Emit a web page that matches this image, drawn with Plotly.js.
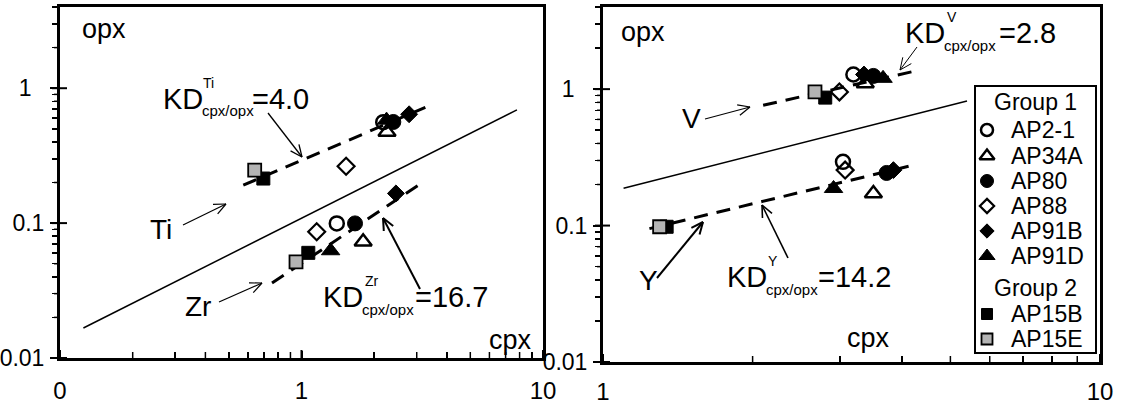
<!DOCTYPE html>
<html>
<head>
<meta charset="utf-8">
<script src="https://cdn.plot.ly/plotly-3.0.1.min.js"></script>
<style>html,body{margin:0;padding:0;background:#fff}#chart{width:1122px;height:409px}</style>
</head>
<body>
<div id="chart"></div>
<script>
// Sample names, in legend order
const samples = ['AP2-1', 'AP34A', 'AP80', 'AP88', 'AP91B', 'AP91D', 'AP15B', 'AP15E'];
const groups  = ['Group 1', 'Group 1', 'Group 1', 'Group 1', 'Group 1', 'Group 1', 'Group 2', 'Group 2'];

// Ti and Zr: concentration in cpx (x) and opx (y)
const tiCpx = [2.18, 2.26, 2.40, 1.53, 2.79, 2.25, 0.695, 0.64];
const tiOpx = [0.56, 0.474, 0.562, 0.264, 0.641, 0.58, 0.214, 0.247];
const zrCpx = [1.40, 1.80, 1.666, 1.156, 2.46, 1.32, 1.067, 0.949];
const zrOpx = [0.0995, 0.0728, 0.0995, 0.0863, 0.166, 0.0624, 0.0602, 0.0516];

// V and Y: concentration in cpx (x) and opx (y)
const vCpx = [3.19, 3.37, 3.50, 2.99, 3.35, 3.66, 2.80, 2.67];
const vOpx = [1.28, 1.10, 1.25, 0.954, 1.28, 1.20, 0.867, 0.954];
const yCpx = [3.04, 3.50, 3.72, 3.07, 3.84, 2.91, 1.343, 1.30];
const yOpx = [0.293, 0.172, 0.243, 0.255, 0.255, 0.187, 0.098, 0.098];

// Regression lines (end points, cpx / opx)
const tiFitCpx = [0.574, 3.30];
const tiFitOpx = [0.191, 0.728];
const zrFitCpx = [0.755, 3.05];
const zrFitOpx = [0.036, 0.191];
const vFitCpx = [2.10, 4.18];
const vFitOpx = [0.762, 1.34];
const yFitCpx = [1.24, 4.12];
const yFitOpx = [0.095, 0.272];

// Reference lines
const refLeftCpx = [0.125, 7.8];
const refLeftOpx = [0.0167, 0.69];
const refRightCpx = [1.10, 5.40];
const refRightOpx = [0.188, 0.82];

// Axis tick labels (decades)
const leftXTicks = [0.1, 1, 10];
const leftXText = ['0', '1', '10'];
const rightXTicks = [1, 10];
const rightXText = ['1', '10'];
const yTicks = [0.01, 0.1, 1];
const yText = ['0.01', '0.1', '1\u2008\u2008'];

// Partition coefficient labels
const kdLabels = [
  {el: 'Ti', value: '=4.0'},
  {el: 'Zr', value: '=16.7'},
  {el: 'V',  value: '=2.8'},
  {el: 'Y',  value: '=14.2'}
];

// ---- geometry & styles ----
const FONT = 'Arial, "Liberation Sans", sans-serif';
const W = 1122, H = 409;
const PX = x => x / W;
const PY = y => 1 - y / H;
const Y_RANGE = [-2, Math.log10(4)];
const LEFT = {x0: 60, x1: 543, y0: 7, y1: 358, xr: [-1, 1]};
const RIGHT = {x0: 603, x1: 1100, y0: 7, y1: 362, xr: [0, 1]};

const markerStyle = {
  'AP2-1': {symbol: 'circle-open', color: '#000', line: {color: '#000', width: 2.5}},
  'AP34A': {symbol: 'triangle-up-open', color: '#000', line: {color: '#000', width: 2.5}},
  'AP80':  {symbol: 'circle', color: '#000', line: {color: '#000', width: 1}},
  'AP88':  {symbol: 'diamond-open', color: '#000', line: {color: '#000', width: 2.2}},
  'AP91B': {symbol: 'diamond', color: '#000', line: {color: '#000', width: 1}},
  'AP91D': {symbol: 'triangle-up', color: '#000', line: {color: '#000', width: 1}},
  'AP15B': {symbol: 'square', color: '#000', line: {color: '#000', width: 1}},
  'AP15E': {symbol: 'square', color: '#b4b4b4', line: {color: '#000', width: 1.8}}
};
const markerSize = {
  'circle-open': 14, 'circle': 15, 'triangle-up-open': 15, 'triangle-up': 16,
  'diamond-open': 13, 'diamond': 13, 'square': 13
};
const keySize = {
  'circle-open': 12, 'circle': 13, 'triangle-up-open': 13, 'triangle-up': 14,
  'diamond-open': 11, 'diamond': 11, 'square': 11
};

const traces = [];

function lineTrace(xs, ys, xa, ya, dash, width) {
  return {
    x: xs, y: ys, xaxis: xa, yaxis: ya, type: 'scatter', mode: 'lines',
    line: {color: '#000', width: width, dash: dash},
    showlegend: false, hoverinfo: 'skip'
  };
}

traces.push(lineTrace(refLeftCpx, refLeftOpx, 'x', 'y', 'solid', 1.5));
traces.push(lineTrace(tiFitCpx, tiFitOpx, 'x', 'y', '14px,9px', 3));
traces.push(lineTrace(zrFitCpx, zrFitOpx, 'x', 'y', '14px,9px', 3));
traces.push(lineTrace(refRightCpx, refRightOpx, 'x2', 'y2', 'solid', 1.5));
traces.push(lineTrace(vFitCpx, vFitOpx, 'x2', 'y2', '14px,9px', 3));
traces.push(lineTrace(yFitCpx, yFitOpx, 'x2', 'y2', '14px,9px', 3));

samples.forEach((name, i) => {
  const st = markerStyle[name];
  const marker = {symbol: st.symbol, color: st.color, size: markerSize[st.symbol], line: st.line};
  traces.push({
    x: [tiCpx[i], zrCpx[i]], y: [tiOpx[i], zrOpx[i]],
    xaxis: 'x', yaxis: 'y', type: 'scatter', mode: 'markers',
    name: name, marker: marker, legendgroup: groups[i], showlegend: false
  });
  traces.push({
    x: [vCpx[i], yCpx[i]], y: [vOpx[i], yOpx[i]],
    xaxis: 'x2', yaxis: 'y2', type: 'scatter', mode: 'markers',
    name: name, marker: marker, legendgroup: groups[i], showlegend: false
  });
});

// ---- text labels ----
const annotations = [];
function note(text, x, y, size, xanchor) {
  annotations.push({
    text: text, x: PX(x), y: PY(y), xref: 'paper', yref: 'paper',
    xanchor: xanchor || 'left', yanchor: 'middle', showarrow: false,
    font: {family: FONT, size: size, color: '#000'}, borderpad: 0
  });
}
// KD label: element as superscript stacked over the cpx/opx subscript
function kd(lbl, x, y, supDx, valueDx) {
  note('KD', x, y, 29);
  note(lbl.el, x + supDx, y - 16, 14);
  note('cpx/opx', x + 39, y + 12, 15);
  note(lbl.value, x + valueDx, y, 29);
}

note('opx', 81, 29, 27);
note('cpx', 533, 340, 27, 'right');
note('Ti', 161, 229, 28, 'center');
note('Zr', 198, 306, 28, 'center');
kd(kdLabels[0], 162, 99, 40, 89);
kd(kdLabels[1], 322, 297, 42, 92);

note('opx', 620, 32, 27);
note('cpx', 891, 338, 27, 'right');
note('V', 691, 119, 28, 'center');
note('Y', 648, 280, 28, 'center');
kd(kdLabels[2], 904, 33, 42, 94);
kd(kdLabels[3], 726, 277, 41, 91);

// ---- arrows ----
const shapes = [];
function seg(a, b, c, d, w) {
  shapes.push({
    type: 'line', xref: 'paper', yref: 'paper',
    x0: PX(a), y0: PY(b), x1: PX(c), y1: PY(d),
    line: {color: '#000', width: w}
  });
}
function arrow(x0, y0, x1, y1, w) {
  seg(x0, y0, x1, y1, w);
  const ang = Math.atan2(y1 - y0, x1 - x0);
  const len = 13, spread = 0.42;
  seg(x1, y1, x1 - len * Math.cos(ang - spread), y1 - len * Math.sin(ang - spread), w);
  seg(x1, y1, x1 - len * Math.cos(ang + spread), y1 - len * Math.sin(ang + spread), w);
}
arrow(268, 113, 302, 157, 1.3);
arrow(183, 225, 226, 204, 1.2);
arrow(219, 302, 262, 283, 1.2);
arrow(420, 289, 383, 218, 2);
arrow(705, 119, 750, 107, 1.2);
arrow(657, 278, 703, 222, 2);
arrow(917, 47, 900, 70, 1);
arrow(788, 258, 762, 205, 1.6);

// ---- log tick marks (decades and 2..9 subdivisions) along each panel's axes ----
function logTickList(lo, hi) {
  const list = [];
  for (let d = Math.floor(lo); d <= Math.ceil(hi); d++) {
    for (let k = 1; k <= 9; k++) {
      const e = d + Math.log10(k);
      if (e >= lo - 1e-9 && e <= hi + 1e-9) list.push({f: (e - lo) / (hi - lo), major: k === 1});
    }
  }
  return list;
}
function panelTicks(box) {
  // bottom axis: ticks pointing into the plot
  logTickList(box.xr[0], box.xr[1]).forEach(t => {
    const x = box.x0 + t.f * (box.x1 - box.x0);
    seg(x, box.y1, x, box.y1 - (t.major ? 8 : 6), t.major ? 2 : 1.5);
  });
  // left axis: subdivisions outside, decades crossing the line
  logTickList(Y_RANGE[0], Y_RANGE[1]).forEach(t => {
    const y = box.y1 - t.f * (box.y1 - box.y0);
    seg(box.x0 - (t.major ? 8 : 6), y, box.x0 + (t.major ? 7 : 0), y, t.major ? 2 : 1.5);
  });
}
panelTicks(LEFT);
panelTicks(RIGHT);

// ---- key box inside the right panel ----
const keyBox = {x0: 975, x1: 1096, y0: 86, y1: 353};
const keyMarkX = 987, keyTextX = 1010;
const keyRows = [
  {title: 'Group 1', y: 102},
  {sample: 'AP2-1', y: 130}, {sample: 'AP34A', y: 156}, {sample: 'AP80', y: 181},
  {sample: 'AP88', y: 206}, {sample: 'AP91B', y: 231}, {sample: 'AP91D', y: 256},
  {title: 'Group 2', y: 288},
  {sample: 'AP15B', y: 314}, {sample: 'AP15E', y: 339}
];
// pixel position -> right-panel axis value (log axes)
const keyX = px => Math.pow(10, RIGHT.xr[0] + (px - RIGHT.x0) / (RIGHT.x1 - RIGHT.x0) * (RIGHT.xr[1] - RIGHT.xr[0]));
const keyY = py => Math.pow(10, Y_RANGE[1] - (py - RIGHT.y0) / (RIGHT.y1 - RIGHT.y0) * (Y_RANGE[1] - Y_RANGE[0]));

shapes.push({
  type: 'rect', xref: 'paper', yref: 'paper', layer: 'below',
  x0: PX(keyBox.x0), x1: PX(keyBox.x1), y0: PY(keyBox.y1), y1: PY(keyBox.y0),
  line: {color: '#000', width: 2}, fillcolor: '#fff'
});
keyRows.forEach(r => {
  if (r.title) {
    note(r.title, (keyBox.x0 + keyBox.x1) / 2, r.y, 23, 'center');
  } else {
    const st = markerStyle[r.sample];
    traces.push({
      x: [keyX(keyMarkX)], y: [keyY(r.y)], xaxis: 'x2', yaxis: 'y2', type: 'scatter', mode: 'markers',
      marker: {symbol: st.symbol, color: st.color, size: keySize[st.symbol], line: st.line},
      showlegend: false, hoverinfo: 'skip'
    });
    note(r.sample, keyTextX, r.y, 23);
  }
});

// ---- axes ----
const baseAxis = {
  type: 'log', tickmode: 'array', tickcolor: '#000', tickwidth: 2,
  showline: true, linewidth: 3, linecolor: '#000', mirror: true,
  showgrid: false, zeroline: false, fixedrange: true
};
function xAxis(domain, range, vals, text, standoff) {
  return Object.assign({}, baseAxis, {
    domain: domain, range: range, tickvals: vals, ticktext: text,
    ticks: 'inside', ticklen: 7,
    minor: {ticks: 'inside', ticklen: 6, tickwidth: 1.5, tickcolor: '#000', dtick: 'D1'},
    tickfont: {family: FONT, size: 24, color: '#000'}, ticklabelstandoff: standoff
  });
}
function yAxis(domain) {
  return Object.assign({}, baseAxis, {
    domain: domain, range: Y_RANGE,
    tickvals: yTicks, ticktext: yText,
    ticks: 'outside', ticklen: 7,
    minor: {ticks: 'outside', ticklen: 5, tickwidth: 1.5, tickcolor: '#000', dtick: 'D1'},
    tickfont: {family: FONT, size: 23, color: '#000'}, ticklabelstandoff: 1
  });
}

const layout = {
  width: W, height: H,
  margin: {l: 0, r: 0, t: 0, b: 0},
  paper_bgcolor: '#fff', plot_bgcolor: '#fff',
  font: {family: FONT, color: '#000'},
  xaxis: Object.assign(xAxis([PX(LEFT.x0), PX(LEFT.x1)], LEFT.xr, leftXTicks, leftXText, 9), {anchor: 'y'}),
  yaxis: Object.assign(yAxis([PY(LEFT.y1), PY(LEFT.y0)]), {anchor: 'x'}),
  xaxis2: Object.assign(xAxis([PX(RIGHT.x0), PX(RIGHT.x1)], RIGHT.xr, rightXTicks, rightXText, 6), {anchor: 'y2'}),
  yaxis2: Object.assign(yAxis([PY(RIGHT.y1), PY(RIGHT.y0)]), {anchor: 'x2'}),
  showlegend: false,
  annotations: annotations,
  shapes: shapes,
  hovermode: false
};

Plotly.newPlot('chart', traces, layout, {staticPlot: true, displayModeBar: false});
</script>
</body>
</html>
